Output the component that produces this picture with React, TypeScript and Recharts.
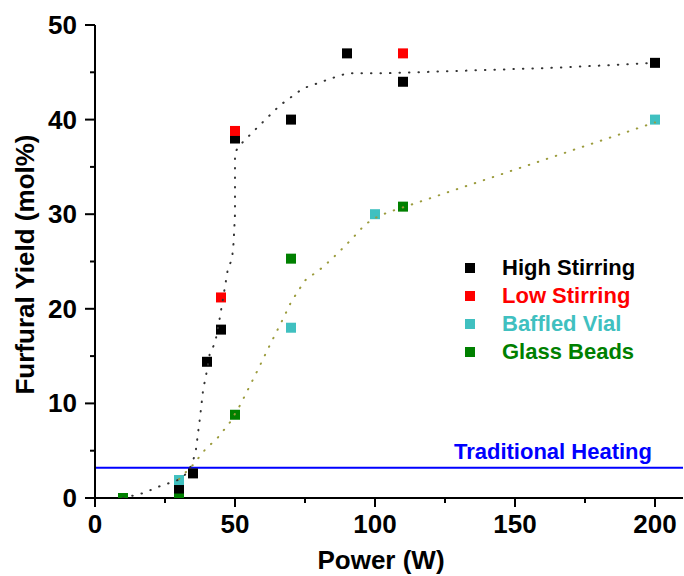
import React from 'react';
import { Legend, ReferenceLine, Scatter, ScatterChart, XAxis, YAxis } from 'recharts';

const FONT = "'Liberation Sans', Arial, sans-serif";

// measured points
const highPower = [30, 35, 40, 45, 50, 70, 90, 110, 200];
const highYield = [1.0, 2.6, 14.4, 17.8, 38.0, 40.0, 47.0, 44.0, 46.0];
const lowPower = [45, 50, 110];
const lowYield = [21.2, 38.8, 47.0];
const baffledPower = [30, 70, 100, 200];
const baffledYield = [1.9, 18.0, 30.0, 40.0];
const beadsPower = [10, 30, 50, 70, 110];
const beadsYield = [0.0, 0.4, 8.8, 25.3, 30.8];

// dotted guide curves
const stirTrendPower = [10, 17, 20.4, 23.6, 26.8, 29.6, 32, 34.6, 36, 37.5, 38.6, 40, 41, 42.9, 44.6, 46.4, 47.5, 48.9, 49.5, 50, 50, 51.4, 56.4, 66, 74.3, 86.8, 90.4, 104, 135, 166, 200];
const stirTrendYield = [0, 0.5, 0.9, 1.3, 1.6, 1.9, 2.4, 3.5, 5, 8.5, 11.4, 13.5, 15.3, 16.4, 19.1, 22.3, 24.3, 25.2, 27, 30, 36.5, 37.2, 38.7, 41.5, 43.3, 44.6, 44.9, 44.9, 45.2, 45.5, 46];
const vialTrendPower = [30, 35, 39.3, 43.9, 48.2, 51.8, 57.9, 62.5, 67.1, 70, 75, 81.4, 86.8, 91.8, 96.4, 100, 104.6, 111.8, 200];
const vialTrendYield = [2, 3.5, 5.1, 6.4, 8.0, 9.8, 13.4, 16.2, 18.9, 20.7, 23, 24.4, 25.9, 27.4, 28.9, 29.6, 30.2, 30.9, 39.7];

const traditionalHeating = 3.2;

const xTicks = [0, 25, 50, 75, 100, 125, 150, 175, 200];
const yTicks = [0, 5, 10, 15, 20, 25, 30, 35, 40, 45, 50];

const seriesNames = ['High Stirring', 'Low Stirring', 'Baffled Vial', 'Glass Beads'];
const seriesColors = ['#000000', '#ff0000', '#40c0c0', '#008000'];

const zip = (xs: number[], ys: number[]) => xs.map((x, i) => ({ x, y: ys[i] }));

const square = (color: string) => (props: any) => (
  <rect x={props.cx - 5} y={props.cy - 5} width={10} height={10} fill={color} />
);
const noMarker = () => <g />;

const Y_TICK_SIZE = 10;
const Y_TICK_MARGIN = 8;
const X_TICK_SIZE = 9;
const X_TICK_MARGIN = 7;

const YTick = (props: any) => {
  const { x, y, payload } = props;
  const axisX = x + Y_TICK_SIZE + Y_TICK_MARGIN;
  const major = payload.value % 10 === 0;
  return (
    <g>
      <line x1={axisX - (major ? 10 : 5)} x2={axisX} y1={y} y2={y} stroke="#000" strokeWidth={2} />
      {major && (
        <text x={x} y={y} dy={9} textAnchor="end" fontFamily={FONT} fontWeight="bold" fontSize={26} fill="#000">
          {payload.value}
        </text>
      )}
    </g>
  );
};

const XTick = (props: any) => {
  const { x, y, payload } = props;
  const axisY = y - X_TICK_SIZE - X_TICK_MARGIN;
  const major = payload.value % 50 === 0;
  return (
    <g>
      <line x1={x} x2={x} y1={axisY} y2={axisY + (major ? 9 : 5)} stroke="#000" strokeWidth={2} />
      {major && (
        <text x={x} y={y} dy={19} textAnchor="middle" fontFamily={FONT} fontWeight="bold" fontSize={26} fill="#000">
          {payload.value}
        </text>
      )}
    </g>
  );
};

const YLabel = (props: any) => {
  const vb = props.viewBox;
  const cx = vb.x + 34;
  const cy = vb.y + vb.height / 2 + 3;
  return (
    <text x={cx} y={cy} transform={`rotate(-90, ${cx}, ${cy})`} textAnchor="middle" fontFamily={FONT} fontWeight="bold" fontSize={26} fill="#000">
      Furfural Yield (mol%)
    </text>
  );
};

const XLabel = (props: any) => {
  const vb = props.viewBox;
  return (
    <text x={vb.x + vb.width / 2 - 8} y={vb.y + 71} textAnchor="middle" fontFamily={FONT} fontWeight="bold" fontSize={26} fill="#000">
      Power (W)
    </text>
  );
};

const HeatingLabel = (props: any) => {
  const vb = props.viewBox;
  return (
    <text x={vb.x + vb.width - 31} y={vb.y - 9} textAnchor="end" fontFamily={FONT} fontWeight="bold" fontSize={22} fill="#0000ff">
      Traditional Heating
    </text>
  );
};

const renderLegend = () => (
  <div style={{ fontFamily: FONT, fontWeight: 'bold', fontSize: 22 }}>
    {seriesNames.map((name, i) => (
      <div key={name} style={{ display: 'flex', alignItems: 'center', height: 28, lineHeight: '28px' }}>
        <span style={{ display: 'inline-block', width: 10, height: 10, background: seriesColors[i], marginLeft: 5 }} />
        <span style={{ marginLeft: 27, color: seriesColors[i] }}>{name}</span>
      </div>
    ))}
  </div>
);

export default function App() {
  return (
    <div style={{ position: 'absolute', left: 0, top: 0 }}>
      <ScatterChart width={684} height={576} margin={{ top: 25, right: 1, bottom: 0, left: 0 }}>
        <XAxis
          type="number"
          dataKey="x"
          domain={[0, 210]}
          ticks={xTicks}
          interval={0}
          height={78}
          tickSize={X_TICK_SIZE}
          tickMargin={X_TICK_MARGIN}
          tickLine={false}
          tick={XTick}
          axisLine={{ stroke: '#000', strokeWidth: 2 }}
          label={XLabel}
        />
        <YAxis
          type="number"
          dataKey="y"
          domain={[0, 50]}
          ticks={yTicks}
          interval={0}
          width={95}
          allowDataOverflow
          tickSize={Y_TICK_SIZE}
          tickMargin={Y_TICK_MARGIN}
          tickLine={false}
          tick={YTick}
          axisLine={{ stroke: '#000', strokeWidth: 2 }}
          label={YLabel}
        />
        <ReferenceLine y={traditionalHeating} stroke="#0000ff" strokeWidth={2} label={HeatingLabel} />
        <Scatter name="Glass Beads" data={zip(beadsPower, beadsYield)} shape={square(seriesColors[3])} isAnimationActive={false} />
        <Scatter name="High Stirring" data={zip(highPower, highYield)} shape={square(seriesColors[0])} isAnimationActive={false} />
        <Scatter name="Low Stirring" data={zip(lowPower, lowYield)} shape={square(seriesColors[1])} isAnimationActive={false} />
        <Scatter name="Baffled Vial" data={zip(baffledPower, baffledYield)} shape={square(seriesColors[2])} isAnimationActive={false} />
        <Scatter
          data={zip(stirTrendPower, stirTrendYield)}
          shape={noMarker}
          legendType="none"
          line={{ stroke: '#333333', strokeWidth: 2, strokeDasharray: '0.5 9', strokeLinecap: 'round' }}
          isAnimationActive={false}
        />
        <Scatter
          data={zip(vialTrendPower, vialTrendYield)}
          shape={noMarker}
          legendType="none"
          line={{ stroke: '#9b9b3c', strokeWidth: 2, strokeDasharray: '0.5 9', strokeLinecap: 'round' }}
          isAnimationActive={false}
        />
        <Legend
          layout="vertical"
          verticalAlign="middle"
          align="center"
          wrapperStyle={{ top: 254, left: 460, width: 220 }}
          content={renderLegend}
        />
      </ScatterChart>
    </div>
  );
}
